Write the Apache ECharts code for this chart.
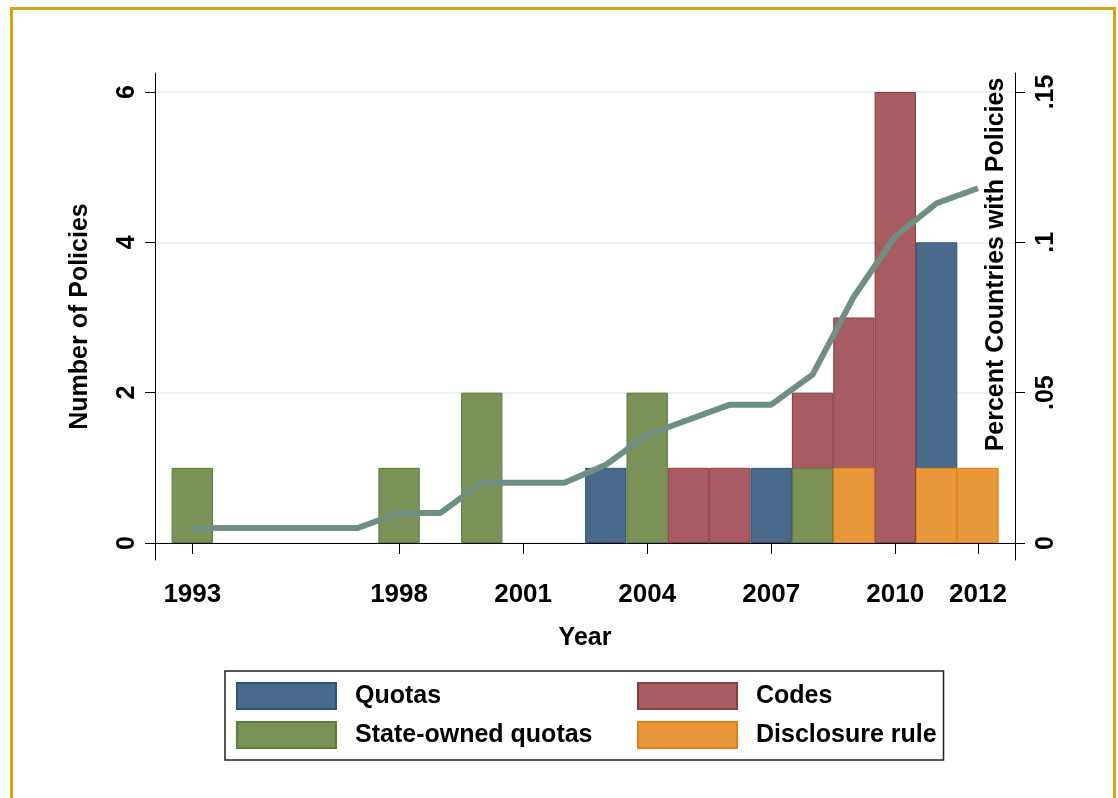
<!DOCTYPE html>
<html>
<head>
<meta charset="utf-8">
<script src="https://cdn.jsdelivr.net/npm/echarts@6/dist/echarts.min.js"></script>
<style>
  html, body { margin: 0; padding: 0; background: #fff; }
  #chart { position: absolute; left: 0; top: 0; width: 1118px; height: 798px; }
  #frame { position: absolute; left: 10px; top: 7px; width: 1100px; height: 800px;
           border: 3px solid #D9A316; border-bottom: none; pointer-events: none; }
</style>
</head>
<body>
<div id="chart"></div>
<div id="frame"></div>
<script>
// data
var years      = [1993,1994,1995,1996,1997,1998,1999,2000,2001,2002,2003,2004,2005,2006,2007,2008,2009,2010,2011,2012];
var quotas     = [0,0,0,0,0,0,0,0,0,0,1,0,0,0,1,0,0,0,4,0];
var codes      = [0,0,0,0,0,0,0,0,0,0,0,0,1,1,0,2,3,6,0,0];
var stateOwned = [1,0,0,0,0,1,0,2,0,0,0,2,0,0,0,1,0,0,0,0];
var disclosure = [0,0,0,0,0,0,0,0,0,0,0,0,0,0,0,0,1,0,1,1];
var share      = [0.005,0.005,0.005,0.005,0.005,0.010,0.010,0.020,0.020,0.020,0.026,0.036,0.041,0.046,0.046,0.056,0.082,0.102,0.113,0.118];
var yearTicks  = [1993,1998,2001,2004,2007,2010,2012];
var leftTicks  = [0,2,4,6];
var rightTicks = [0,0.05,0.1,0.15];

var FONT = 'Liberation Sans, Arial, Helvetica, sans-serif';
var gridLeft = 155, gridRight = 103;
var xMin = 1992.098, xMax = 2012.895;
var barW = (1118 - gridLeft - gridRight) / (xMax - xMin);

function pairs(vals) {
    return years.map(function (y, i) { return vals[i] ? [y, vals[i]] : null; })
                .filter(function (d) { return d; });
}

function barSeries(name, vals, fill, edge) {
    return {
        name: name,
        type: 'bar',
        data: pairs(vals),
        barWidth: barW,
        barGap: '-100%',
        itemStyle: { color: fill, borderColor: edge, borderWidth: 1 },
        emphasis: { disabled: true }
    };
}

// two legend columns, the first one carries the frame box
function legendColumn(names, left, top, boxed) {
    return {
        orient: 'vertical',
        left: left,
        top: top,
        itemWidth: 99,
        itemHeight: 26,
        itemGap: 11,
        icon: 'rect',
        padding: boxed ? [11, 351, 11, 11] : 0,
        backgroundColor: boxed ? '#fff' : 'transparent',
        borderColor: '#222',
        borderWidth: boxed ? 1.5 : 0,
        selectedMode: false,
        z: boxed ? 4 : 5,
        data: names,
        textStyle: {
            fontFamily: FONT, fontWeight: 'bold', fontSize: 25, color: '#000',
            padding: [0, 0, 0, 14]
        }
    };
}

var myChart = echarts.init(document.getElementById('chart'));
var option = {
    backgroundColor: '#fff',
    animation: false,
    grid: { left: gridLeft, right: gridRight, top: 73, bottom: 238 },
    xAxis: {
        type: 'value',
        min: xMin,
        max: xMax,
        name: 'Year',
        nameLocation: 'middle',
        nameGap: 66,
        nameTextStyle: { fontFamily: FONT, fontWeight: 'bold', fontSize: 25, color: '#000' },
        axisLine: { lineStyle: { color: '#000', width: 1 } },
        axisTick: { customValues: yearTicks, length: 11, lineStyle: { color: '#000' } },
        axisLabel: {
            customValues: yearTicks,
            margin: 22,
            fontFamily: FONT, fontWeight: 'bold', fontSize: 26, color: '#000',
            formatter: function (v) { return String(v); }
        },
        splitLine: { show: false }
    },
    yAxis: [{
        type: 'value',
        position: 'left',
        min: -0.2261,
        max: 6.2527,
        name: 'Number of Policies',
        nameLocation: 'middle',
        nameGap: 62,
        nameTextStyle: { fontFamily: FONT, fontWeight: 'bold', fontSize: 25, color: '#000' },
        axisLine: { show: true, lineStyle: { color: '#000', width: 1 } },
        axisTick: { show: true, customValues: leftTicks, length: 10, lineStyle: { color: '#000' } },
        axisLabel: {
            customValues: leftTicks,
            rotate: 90,
            margin: 15,
            fontFamily: FONT, fontWeight: 'bold', fontSize: 25, color: '#000'
        },
        splitLine: { show: true, lineStyle: { color: '#E9F1F3', width: 2 } }
    }, {
        type: 'value',
        position: 'right',
        min: -0.005654,
        max: 0.156318,
        name: 'Percent Countries with Policies',
        nameLocation: 'middle',
        nameRotate: 90,
        nameGap: -31,
        nameMoveOverlap: false,
        nameTextStyle: { fontFamily: FONT, fontWeight: 'bold', fontSize: 25, color: '#000',
                         padding: [0, 0, 0, 104] },
        axisLine: { show: true, lineStyle: { color: '#000', width: 1 } },
        axisTick: { show: true, customValues: rightTicks, length: 10, lineStyle: { color: '#000' } },
        axisLabel: {
            customValues: rightTicks,
            rotate: 90,
            margin: 19,
            fontFamily: FONT, fontWeight: 'bold', fontSize: 25, color: '#000',
            formatter: function (v) { return v === 0 ? '0' : String(v).replace(/^0/, ''); }
        },
        splitLine: { show: false }
    }],
    legend: [
        legendColumn(['Quotas', 'State-owned quotas'], 225, 671, true),
        legendColumn(['Codes', 'Disclosure rule'], 637, 682, false)
    ],
    series: [
        barSeries('Quotas', quotas, '#496A8B', '#2C557C'),
        barSeries('Codes', codes, '#A65C60', '#8E3A42'),
        barSeries('State-owned quotas', stateOwned, '#7A9257', '#5E7C39'),
        barSeries('Disclosure rule', disclosure, '#E8973A', '#E4800F'),
        {
            name: 'Share',
            type: 'line',
            yAxisIndex: 1,
            data: years.map(function (y, i) { return [y, share[i]]; }),
            symbol: 'none',
            z: 5,
            lineStyle: { color: '#6F8F83', width: 6 },
            emphasis: { disabled: true }
        }
    ]
};
myChart.setOption(option);
</script>
</body>
</html>
